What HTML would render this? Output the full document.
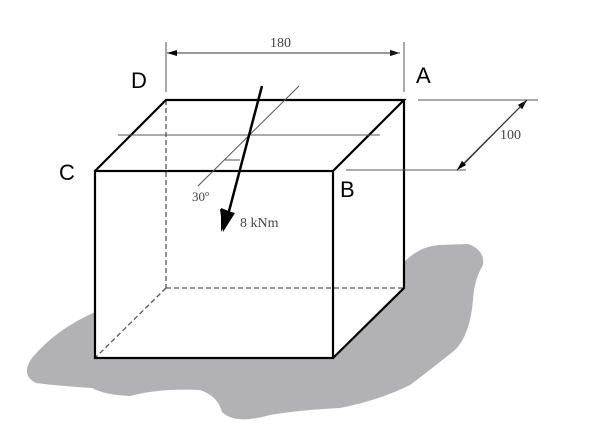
<!DOCTYPE html>
<html><head><meta charset="utf-8"><style>html,body{margin:0;padding:0;background:#fff}svg{display:block}</style></head>
<body>
<svg width="603" height="446" viewBox="0 0 603 446" xmlns="http://www.w3.org/2000/svg">
<defs>
<marker id="ar" viewBox="0 0 10 6" refX="10" refY="3" markerWidth="10" markerHeight="6" orient="auto" markerUnits="userSpaceOnUse"><path d="M0,0 L10,3 L0,6 Z" fill="#000"/></marker>
</defs>
<path d="M404,262 Q420,246 440,245 L468,244 Q485,250 483,265 Q474,280 473,300 Q470,335 455,350 Q430,370 410,385 Q380,400 340,408 Q300,410 270,415 Q235,425 222,412 Q218,396 200,390 Q160,388 130,396 Q105,395 92,388 Q60,386 36,383 Q20,375 32,358 Q55,330 95,312 Z" fill="#b2b1b3"/>
<rect x="95" y="171" width="238" height="187" fill="#fff"/>
<path d="M95,171 L166,100 L404,100 L404,288 L333,358 L333,171 Z" fill="#fff"/>
<g stroke="#555" stroke-width="1.3" stroke-dasharray="5,3" fill="none">
<line x1="166" y1="100" x2="166" y2="288"/>
<line x1="166" y1="288" x2="404" y2="288"/>
<line x1="166" y1="288" x2="95" y2="358"/>
</g>
<g stroke="#000" stroke-width="2.2" fill="none">
<rect x="95" y="171" width="238" height="187"/>
<polyline points="95,171 166,100 404,100 333,171"/>
<polyline points="404,100 404,288 333,358"/>
</g>
<g stroke="#555" stroke-width="1" fill="none">
<line x1="166" y1="42" x2="166" y2="92"/>
<line x1="404" y1="42" x2="404" y2="92"/>
<line x1="418" y1="100" x2="538" y2="100"/>
<line x1="346" y1="170" x2="466" y2="170"/>
<line x1="118" y1="135" x2="380" y2="135"/>
<line x1="198" y1="186" x2="299" y2="86"/>
<line x1="225" y1="160" x2="240" y2="160"/>
</g>
<line x1="170" y1="53" x2="400" y2="53" stroke="#333" stroke-width="1" marker-end="url(#ar)"/>
<line x1="400" y1="53" x2="167" y2="53" stroke="#333" stroke-width="1" marker-end="url(#ar)"/>
<line x1="460" y1="168" x2="527" y2="100" stroke="#333" stroke-width="1" marker-end="url(#ar)"/>
<line x1="525" y1="102" x2="457" y2="170" stroke="#333" stroke-width="1" marker-end="url(#ar)"/>
<line x1="262" y1="86" x2="228" y2="215" stroke="#000" stroke-width="2.5"/>
<path d="M231,212 L221,232 L221,208 Z M220,209 L235,213 L223,232 Z" fill="#000"/>
<g font-family="Liberation Serif, serif" fill="#444">
<text x="270" y="47" font-size="14">180</text>
<text x="500" y="139" font-size="14">100</text>
<text x="192" y="201" font-size="13">30º</text>
<text x="240" y="227" font-size="14">8 kNm</text>
</g>
<g font-family="Liberation Sans, sans-serif" font-size="22" fill="#000">
<text x="131" y="88">D</text>
<text x="416" y="83">A</text>
<text x="59" y="180">C</text>
<text x="340" y="197">B</text>
</g>
</svg>
</body></html>
